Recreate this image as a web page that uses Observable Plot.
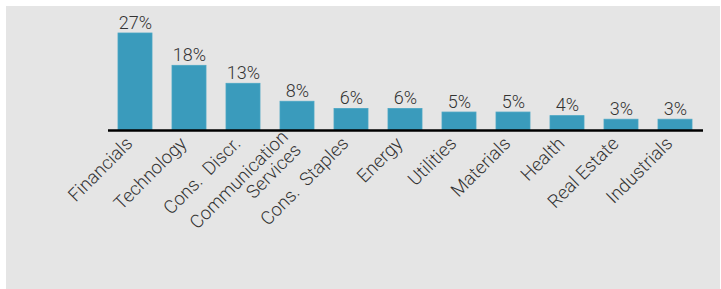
<!DOCTYPE html>
<html>
<head>
<meta charset="utf-8">
<script src="https://cdn.jsdelivr.net/npm/d3@7"></script>
<script src="https://cdn.jsdelivr.net/npm/@observablehq/plot@0.6"></script>
<style>
  html, body { margin: 0; padding: 0; background: #ffffff; }
  #wrap { position: relative; width: 721px; height: 289px; overflow: hidden; }
  #panel { position: absolute; left: 6px; top: 6px; width: 714px; height: 283px; background: #e5e5e5; }
  #chart { position: absolute; left: 0; top: 0; }
  #chart svg { background: transparent; }
</style>
</head>
<body>
<div id="wrap">
  <div id="panel"></div>
  <div id="chart"></div>
</div>
<script>
const sectors = ["Financials", "Technology", "Cons.  Discr.", "Communication\nServices", "Cons.  Staples", "Energy", "Utilities", "Materials", "Health", "Real Estate", "Industrials"];
const weights = [27, 18, 13, 8, 6, 6, 5, 5, 4, 3, 3];

const data = sectors.map((s, i) => ({sector: s, weight: weights[i]}));

const chart = Plot.plot({
  width: 721,
  height: 289,
  marginLeft: 108,
  marginRight: 18,
  marginTop: 33,
  marginBottom: 159,
  style: {fontFamily: "Roboto", fontWeight: 300, color: "#333", background: "transparent"},
  x: {domain: sectors, paddingInner: 0.37, paddingOuter: 0.17, label: null},
  y: {domain: [0, 27], axis: null},
  marks: [
    Plot.barY(data, {x: "sector", y: "weight", fill: "#3a9bbc", stroke: "#4aa6c4", strokeWidth: 0.8}),
    Plot.text(data, {x: "sector", y: "weight", text: d => d.weight + "%", lineAnchor: "bottom", dy: -5, fontSize: 18, fontWeight: 300, fill: "#333"}),
    Plot.ruleY([0], {stroke: "#000", strokeWidth: 2.6}),
    Plot.axisX({tickSize: 0, tickRotate: -45, tickPadding: 10, dx: -6, fontSize: 18.5, fontWeight: 300, fill: "#333", label: null, style: {letterSpacing: "0.2px"}})
  ]
});
document.getElementById("chart").appendChild(chart);
</script>
</body>
</html>
